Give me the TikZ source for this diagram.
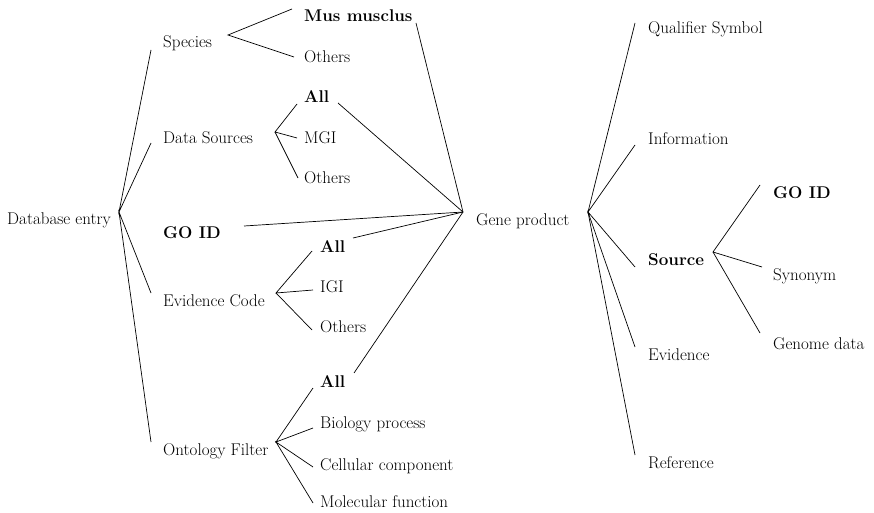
\documentclass[tikz,border=0pt]{standalone}
\begin{document}
\begin{tikzpicture}[x=1pt,y=-1pt,
  lbl/.style={anchor=base west,inner sep=0pt,font=\fontsize{17}{20}\selectfont},
  blbl/.style={lbl,font=\fontsize{17}{20}\selectfont\bfseries},
  conn/.style={line width=0.7pt,black}]
\useasboundingbox (0,0) rectangle (874,513);
% text nodes
\node[lbl] (db) at (7,224) {Database entry};
\node[lbl] (sp) at (163,48) {Species};
\node[blbl] (mus) at (304,22) {Mus musclus};
\node[lbl] (oth1) at (304,63) {Others};
\node[lbl] (ds) at (163,143) {Data Sources};
\node[blbl] (all1) at (304,103) {All};
\node[lbl] (mgi) at (304,143) {MGI};
\node[lbl] (oth2) at (304,183) {Others};
\node[blbl] (goid) at (163,238) {GO ID};
\node[lbl] (ev) at (163,306) {Evidence Code};
\node[blbl] (all2) at (320,252) {All};
\node[lbl] (igi) at (320,292) {IGI};
\node[lbl] (oth3) at (320,332) {Others};
\node[lbl] (ont) at (163,455) {Ontology Filter};
\node[blbl] (all3) at (320,387) {All};
\node[lbl] (bio) at (320,428) {Biology process};
\node[lbl] (cell) at (320,470) {Cellular component};
\node[lbl] (mol) at (320,507) {Molecular function};
\node[lbl] (gp) at (476,225) {Gene product};
\node[lbl] (qual) at (648,34) {Qualifier Symbol};
\node[lbl] (info) at (648,145) {Information};
\node[blbl] (src) at (648,265) {Source};
\node[lbl] (evd) at (648,360) {Evidence};
\node[lbl] (ref) at (648,468) {Reference};
\node[blbl] (goid2) at (773,198) {GO ID};
\node[lbl] (syn) at (773,280) {Synonym};
\node[lbl] (gen) at (773,349) {Genome data};
% hubs
\coordinate (dbh) at (119,212);
\coordinate (sph) at (228,35);
\coordinate (dsh) at (275,132);
\coordinate (evh) at (276,293);
\coordinate (onth) at (276,442);
\coordinate (gpl) at (463,212);
\coordinate (gpr) at (588,212);
\coordinate (srh) at (713,252);
% line ends
\coordinate (e-sp) at (151,50);
\coordinate (e-ds) at (151,143);
\coordinate (e-ev) at (151,293);
\coordinate (e-ont) at (151,442);
\coordinate (e-mus) at (292,9);
\coordinate (e-oth1) at (294,57);
\coordinate (s-mus) at (416,23);
\coordinate (e-all1) at (297,104);
\coordinate (e-mgi) at (297,138);
\coordinate (e-oth2) at (298,178);
\coordinate (s-all1) at (338,103);
\coordinate (s-goid) at (244,226);
\coordinate (e-all2) at (312,251);
\coordinate (e-igi) at (313,290);
\coordinate (e-oth3) at (312,330);
\coordinate (s-all2) at (353,238);
\coordinate (e-all3) at (313,388);
\coordinate (e-bio) at (313,428);
\coordinate (e-cell) at (313,467);
\coordinate (e-mol) at (313,503);
\coordinate (s-all3) at (354,373);
\coordinate (e-qual) at (635,23);
\coordinate (e-info) at (635,145);
\coordinate (e-src) at (635,267);
\coordinate (e-evd) at (635,347);
\coordinate (e-ref) at (635,455);
\coordinate (e-goid2) at (760,185);
\coordinate (e-syn) at (762,267);
\coordinate (e-gen) at (760,333);
% connectors
\draw[conn] (e-sp) -- (dbh) -- (e-ds);
\draw[conn] (e-ev) -- (dbh) -- (e-ont);
\draw[conn] (e-mus) -- (sph) -- (e-oth1);
\draw[conn] (e-all1) -- (dsh) -- (e-mgi);
\draw[conn] (dsh) -- (e-oth2);
\draw[conn] (e-all2) -- (evh) -- (e-igi);
\draw[conn] (evh) -- (e-oth3);
\draw[conn] (e-all3) -- (onth) -- (e-bio);
\draw[conn] (e-cell) -- (onth) -- (e-mol);
\draw[conn] (s-mus) -- (gpl);
\draw[conn] (s-all1) -- (gpl);
\draw[conn] (s-goid) -- (gpl);
\draw[conn] (s-all2) -- (gpl);
\draw[conn] (s-all3) -- (gpl);
\draw[conn] (e-qual) -- (gpr) -- (e-info);
\draw[conn] (e-src) -- (gpr) -- (e-evd);
\draw[conn] (gpr) -- (e-ref);
\draw[conn] (e-goid2) -- (srh) -- (e-syn);
\draw[conn] (srh) -- (e-gen);
\end{tikzpicture}
\end{document}
